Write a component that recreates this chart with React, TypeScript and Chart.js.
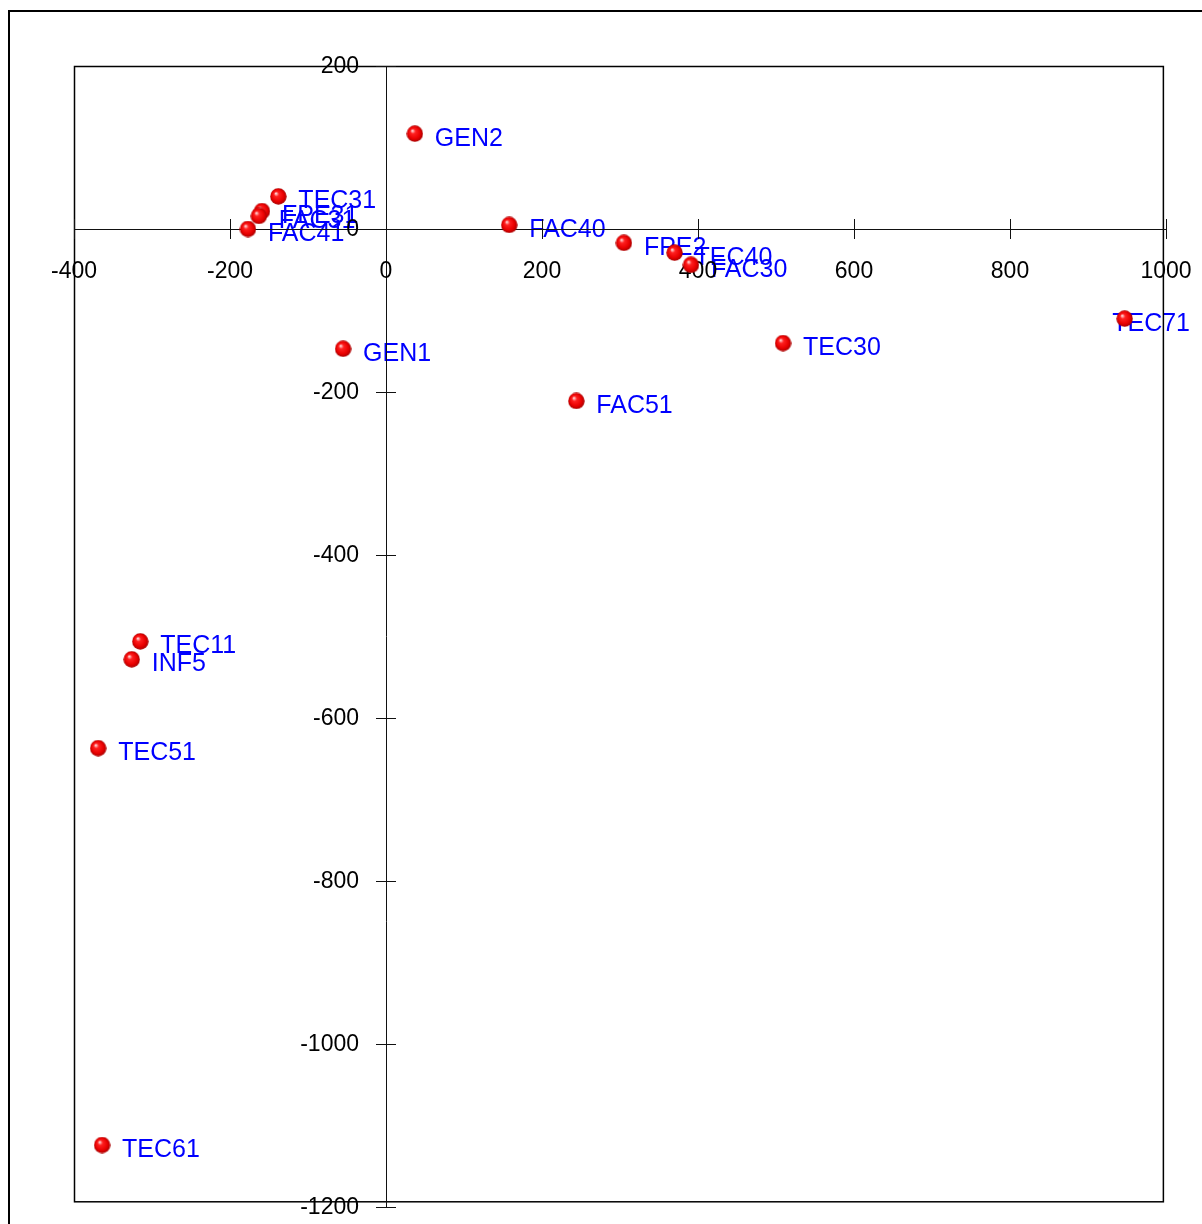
import React, { useEffect, useRef } from "react";
import { Chart, registerables } from "chart.js";

Chart.register(...registerables);

const labels = ["GEN2", "TEC31", "FPE31", "FAC31", "FAC41", "FAC40", "FPE2", "TEC40", "FAC30", "TEC30", "TEC71", "GEN1", "FAC51", "TEC11", "INF5", "TEC51", "TEC61"];
const xValues = [37, -138, -159, -163, -177, 158, 305, 370, 391, 509, 947, -55, 244, -315, -326, -369, -364];
const yValues = [117, 40, 22, 16, 0, 5, -17, -29, -44, -140, -110, -147, -211, -506, -528, -637, -1124];
const xTicks = [-400, -200, 0, 200, 400, 600, 800, 1000];
const yTicks = [200, 0, -200, -400, -600, -800, -1000, -1200];

function makeSphere(): HTMLCanvasElement {
  const c = document.createElement("canvas");
  c.width = 17;
  c.height = 17;
  const g = c.getContext("2d")!;
  const grad = g.createRadialGradient(6, 5.5, 0.5, 8.5, 8.5, 8.5);
  grad.addColorStop(0, "#ffd0d0");
  grad.addColorStop(0.25, "#ff2020");
  grad.addColorStop(0.7, "#e80000");
  grad.addColorStop(1, "#a00000");
  g.fillStyle = grad;
  g.beginPath();
  g.arc(8.5, 8.5, 8.2, 0, Math.PI * 2);
  g.fill();
  return c;
}

const decorPlugin = {
  id: "decor",
  beforeDatasetsDraw(chart: any) {
    const ctx = chart.ctx as CanvasRenderingContext2D;
    const xs = chart.scales.x;
    const ys = chart.scales.y;
    ctx.save();
    // outer frame
    ctx.strokeStyle = "#000";
    ctx.lineWidth = 2;
    ctx.strokeRect(9, 11, 1400, 1400);

    // data labels
    const meta = chart.getDatasetMeta(0);
    ctx.font = "25px 'Liberation Sans', Arial, sans-serif";
    ctx.fillStyle = "#0000ff";
    ctx.textAlign = "left";
    ctx.textBaseline = "middle";
    meta.data.forEach((pt: any, i: number) => {
      const w = ctx.measureText(labels[i]).width;
      let lx = pt.x + 20;
      if (lx + w > chart.width - 10) lx = chart.width - 12 - w;
      ctx.fillText(labels[i], lx, pt.y + 5);
    });

    // plot box
    ctx.strokeStyle = "#000";
    ctx.lineWidth = 1.5;
    const bl = xs.getPixelForValue(-400);
    const br = xs.getPixelForValue(996);
    const bt = ys.getPixelForValue(200);
    const bb = ys.getPixelForValue(-1193);
    ctx.strokeRect(bl + 0.5, bt + 0.5, br - bl, bb - bt);

    // axes
    const y0 = ys.getPixelForValue(0);
    const x0 = xs.getPixelForValue(0);
    ctx.strokeStyle = "#111";
    ctx.lineWidth = 1;
    ctx.beginPath();
    ctx.moveTo(xs.getPixelForValue(-400), Math.round(y0) + 0.5);
    ctx.lineTo(xs.getPixelForValue(1000), Math.round(y0) + 0.5);
    ctx.moveTo(Math.round(x0) + 0.5, ys.getPixelForValue(200));
    ctx.lineTo(Math.round(x0) + 0.5, ys.getPixelForValue(-1200));
    xTicks.forEach((v) => {
      const px = Math.round(xs.getPixelForValue(v)) + 0.5;
      ctx.moveTo(px, y0 - 10);
      ctx.lineTo(px, y0 + 10);
    });
    yTicks.forEach((v) => {
      const py = Math.round(ys.getPixelForValue(v)) + 0.5;
      ctx.moveTo(x0 - 10, py);
      ctx.lineTo(x0 + 10, py);
    });
    ctx.stroke();

    // tick labels
    ctx.fillStyle = "#000";
    ctx.font = "23px 'Liberation Sans', Arial, sans-serif";
    ctx.textAlign = "center";
    ctx.textBaseline = "middle";
    xTicks.forEach((v) => {
      ctx.fillText(String(v), xs.getPixelForValue(v), y0 + 43);
    });
    ctx.textAlign = "right";
    yTicks.forEach((v) => {
      ctx.fillText(String(v), x0 - 27, ys.getPixelForValue(v) + 1);
    });
    ctx.restore();
  },
};

export default function App() {
  const ref = useRef<HTMLCanvasElement | null>(null);
  useEffect(() => {
    if (!ref.current) return;
    const sphere = makeSphere();
    const chart = new Chart(ref.current, {
      type: "scatter",
      data: {
        datasets: [
          {
            data: xValues.map((x, i) => ({ x, y: yValues[i] })),
            pointStyle: sphere as any,
            pointRadius: 8,
            backgroundColor: "#ff0000",
          },
        ],
      },
      options: {
        animation: false,
        responsive: false,
        devicePixelRatio: 1,
        layout: { padding: { left: 74, top: 66, right: 36, bottom: 17 } },
        plugins: { legend: { display: false }, tooltip: { enabled: false } },
        scales: {
          x: { type: "linear", min: -400, max: 1000, display: false },
          y: { type: "linear", min: -1200, max: 200, display: false },
        },
      },
      plugins: [decorPlugin],
    });
    return () => chart.destroy();
  }, []);
  return (
    <div style={{ position: "absolute", left: 0, top: 0, width: 1202, height: 1224, background: "#fff" }}>
      <canvas ref={ref} width={1202} height={1224} style={{ display: "block" }} />
    </div>
  );
}
